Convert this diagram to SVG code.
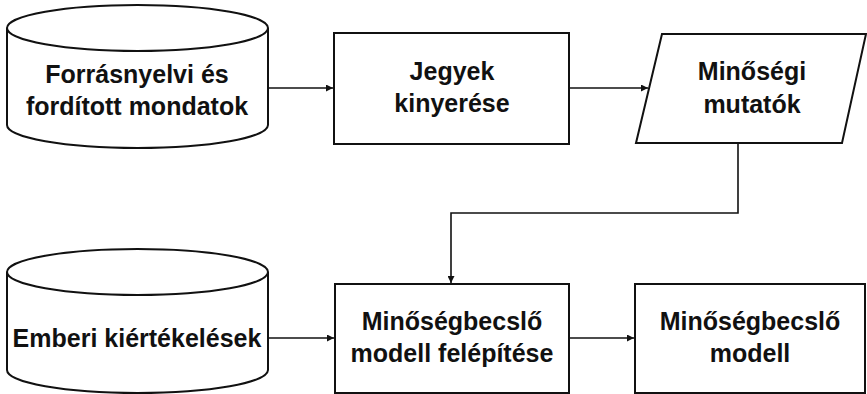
<svg xmlns="http://www.w3.org/2000/svg" width="867" height="394" viewBox="0 0 867 394">
  <defs>
    <marker id="arrow" viewBox="0 0 10 10" refX="10" refY="5" markerWidth="7" markerHeight="7" markerUnits="userSpaceOnUse" orient="auto">
      <path d="M0,0 L10,5 L0,10 Z" fill="#111"/>
    </marker>
  </defs>
  <style>
    .shape { fill: #fff; stroke: #111; stroke-width: 2; }
    .label { font-family: "Liberation Sans", Arial, sans-serif; font-weight: bold; font-size: 25px; fill: #111; text-anchor: middle; }
    .conn { fill: none; stroke: #111; stroke-width: 1.6; marker-end: url(#arrow); }
  </style>
  <rect width="867" height="394" fill="#fff"/>

  <g id="connectors">
    <path class="conn" d="M268,88 H333"/>
    <path class="conn" d="M569,88 H648"/>
    <path class="conn" d="M738,143 V213 H451 V283"/>
    <path class="conn" d="M268,338 H334"/>
    <path class="conn" d="M569,338 H634"/>
  </g>

  <g id="source-db">
    <path class="shape" d="M7,28 V125 A130.5,23 0 0 0 268,125 V28 A130.5,23 0 0 0 7,28 Z"/>
    <path class="shape" d="M7,28 A130.5,23 0 0 0 268,28" fill="none"/>
    <text class="label" x="137" y="83">Forrásnyelvi és</text>
    <text class="label" x="137" y="115">fordított mondatok</text>
  </g>

  <g id="feature-extraction">
    <rect class="shape" x="334" y="33" width="235" height="111"/>
    <text class="label" x="452" y="80">Jegyek</text>
    <text class="label" x="452" y="112">kinyerése</text>
  </g>

  <g id="quality-indicators">
    <polygon class="shape" points="662,34 866,34 842,143 636,143"/>
    <text class="label" x="752" y="80">Minőségi</text>
    <text class="label" x="752" y="113">mutatók</text>
  </g>

  <g id="human-eval-db">
    <path class="shape" d="M7,272 V370 A130.5,23 0 0 0 268,370 V272 A130.5,23 0 0 0 7,272 Z"/>
    <path class="shape" d="M7,272 A130.5,23 0 0 0 268,272" fill="none"/>
    <text class="label" x="137" y="347">Emberi kiértékelések</text>
  </g>

  <g id="model-building">
    <rect class="shape" x="335" y="284" width="234" height="109"/>
    <text class="label" x="452" y="330">Minőségbecslő</text>
    <text class="label" x="452" y="362">modell felépítése</text>
  </g>

  <g id="qe-model">
    <rect class="shape" x="635" y="284" width="230" height="109"/>
    <text class="label" x="750" y="330">Minőségbecslő</text>
    <text class="label" x="750" y="362">modell</text>
  </g>
</svg>
